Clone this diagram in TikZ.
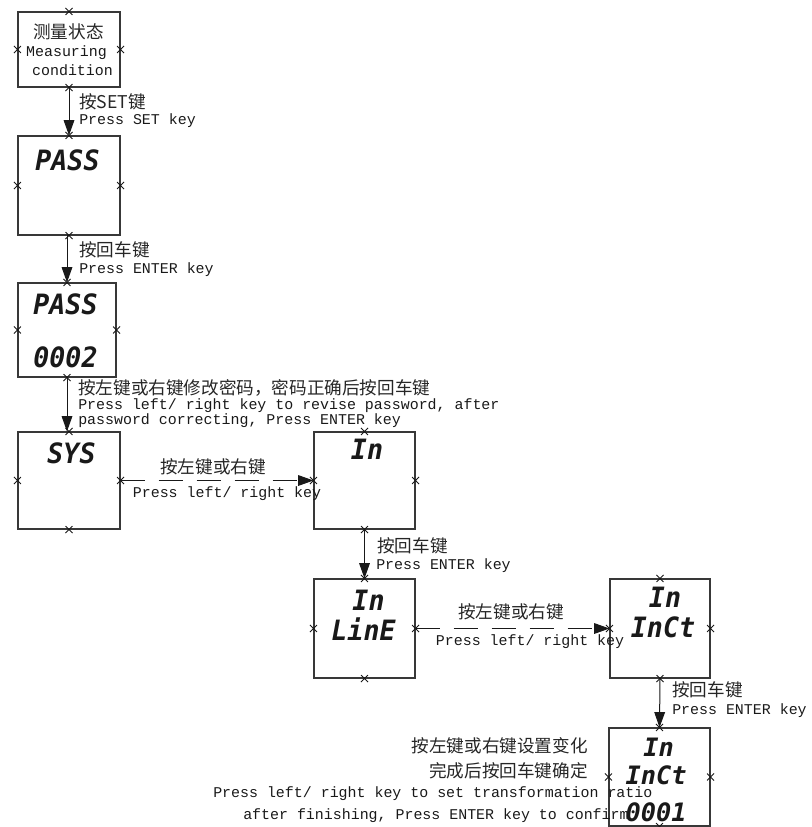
\documentclass[tikz,border=0pt]{standalone}
\usepackage{fontspec}
\setmainfont{Liberation Mono}
\newfontfamily\cjk{Noto Sans CJK SC}
\newfontfamily\lcd{DejaVu Sans Mono}
\usetikzlibrary{arrows.meta}
\newcommand{\lcdtxt}[1]{{\lcd\bfseries\itshape\fontsize{21}{21}\selectfont\scalebox{0.95}[1]{#1}}}
\newcommand{\lcdsmall}[1]{{\lcd\bfseries\itshape\fontsize{19}{19}\selectfont\scalebox{1.0}[1]{#1}}}
\begin{document}
\begin{tikzpicture}[x=0.75pt,y=-0.75pt,
  bx/.style 2 args={draw=black!78, line width=0.8pt, inner sep=0pt,
     minimum width=#1, minimum height=#2},
  arr/.style={-{Triangle[length=11.5pt,width=8pt]}, line width=0.75pt, black!90},
  dsh/.style={arr, dash pattern=on 18pt off 10.5pt},
  zh/.style={inner sep=0pt, text=black!85, font=\cjk\fontsize{13.2}{15}\selectfont},
  en/.style={inner sep=0pt, text=black!90, font=\fontsize{11.2}{13}\selectfont},
  xmk/.style={line width=0.6pt, black!90},
  lcdn/.style={inner sep=0pt, text=black!90}]
\useasboundingbox (0,0) rectangle (811,827);

% boxes
\node[bx={76.5pt}{56.25pt}] (b1) at (69,49.5) {};
\node[bx={76.5pt}{74.25pt}] (b2) at (69,185.5) {};
\node[bx={73.5pt}{70.5pt}] (b3) at (67,330) {};
\node[bx={76.5pt}{72.75pt}] (b4) at (69,480.5) {};
\node[bx={75.75pt}{72.75pt}] (b5) at (364.5,480.5) {};
\node[bx={75.75pt}{74.25pt}] (b6) at (364.5,628.5) {};
\node[bx={75pt}{74.25pt}] (b7) at (660,628.5) {};
\node[bx={75.75pt}{73.5pt}] (b8) at (659.5,777) {};

% box 1 texts
\node[zh] (m1) at (68.5,32) {测量状态};
\node[en] (m2) at (66.5,53) {Measuring};
\node[en] (m3) at (72.5,70) {condition};

% display texts
\node[lcdn] (d2) at (67.5,160.5) {\lcdtxt{PASS}};
\node[lcdn] (d3a) at (65.5,304) {\lcdtxt{PASS}};
\node[lcdn] (d3b) at (65.5,357) {\lcdtxt{0002}};
\node[lcdn] (d4) at (71.5,453) {\lcdtxt{SYS}};
\node[lcdn] (d5) at (367,449) {\lcdtxt{In}};
\node[lcdn] (d6a) at (368.5,600) {\lcdtxt{In}};
\node[lcdn] (d6b) at (363.5,629.5) {\lcdtxt{LinE}};
\node[lcdn] (d7a) at (665,597) {\lcdtxt{In}};
\node[lcdn] (d7b) at (663,627.5) {\lcdtxt{InCt}};
\node[lcdn] (d8a) at (658.5,747) {\lcdsmall{In}};
\node[lcdn] (d8b) at (656,775) {\lcdsmall{InCt}};
\node[lcdn] (d8c) at (656,812) {\lcdsmall{0001}};

% connectors
\draw[arr] (b1.south) -- (b2.north);
\draw[arr] (b2.south) -- (b3.south |- b2.south) -- (b3.north);
\draw[arr] (b3.south) -- (b3.south |- b4.north);
\draw[dsh] (b4.east) -- (b5.west);
\draw[arr] (b5.south) -- (b6.north);
\draw[dsh] (b6.east) -- (b7.west);
\draw[arr] (b7.south) -- (b8.north);

% cross marks
\foreach \n in {b1,b2,b3,b4,b5,b6,b7,b8}{
  \foreach \a in {north,south,east,west}{
    \draw[xmk] (\n.\a) ++(-3.5,-3.5) -- ++(7,7) ++(-7,0) -- ++(7,-7);
  }
}

% labels
\node[zh,anchor=west] (t1a) at (79,101.5) {按SET键};
\node[en,anchor=west] (t1b) at (79,121) {Press SET key};
\node[zh,anchor=west] (t2a) at (79,250) {按回车键};
\node[en,anchor=west] (t2b) at (79,270) {Press ENTER key};
\node[zh,anchor=west] (t3a) at (78,388) {按左键或右键修改密码，密码正确后按回车键};
\node[en,anchor=west] (t3b) at (78,406) {Press left/ right key to revise password, after};
\node[en,anchor=west] (t3c) at (78,421) {password correcting, Press ENTER key};
\node[zh] (t4a) at (213,467) {按左键或右键};
\node[en] (t4b) at (227,494) {Press left/ right key};
\node[zh,anchor=west] (t5a) at (377,546) {按回车键};
\node[en,anchor=west] (t5b) at (376,566) {Press ENTER key};
\node[zh] (t6a) at (511,612) {按左键或右键};
\node[en] (t6b) at (530,642) {Press left/ right key};
\node[zh,anchor=west] (t7a) at (672,690) {按回车键};
\node[en,anchor=west] (t7b) at (672,711) {Press ENTER key};
\node[zh,anchor=east] (t8a) at (588,746) {按左键或右键设置变化};
\node[zh,anchor=east] (t8b) at (588,771) {完成后按回车键确定};
\node[en,anchor=west] (t8c) at (213,794) {Press left/ right key to set transformation ratio};
\node[en,anchor=west] (t8d) at (243,816) {after finishing, Press ENTER key to confirm};
\end{tikzpicture}
\end{document}
